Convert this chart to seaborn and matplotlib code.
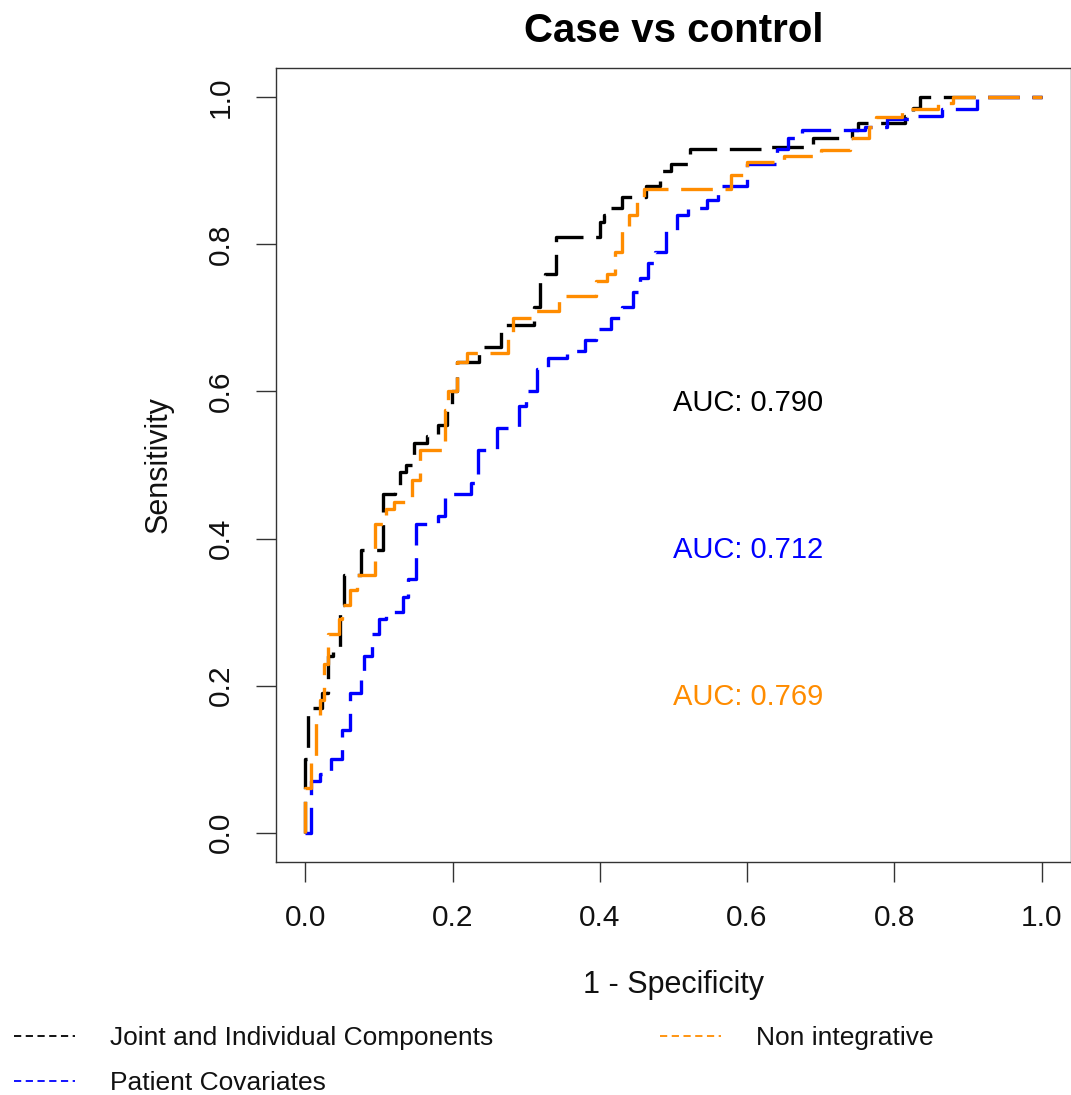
import numpy as np
import pandas as pd
import matplotlib
matplotlib.use("Agg")
import matplotlib.pyplot as plt
import seaborn as sns

# ---------------- data (step corners of the ROC curves) ----------------
jic_fpr = [0.000, 0.000, 0.004, 0.008, 0.022, 0.030, 0.037, 0.047, 0.052, 0.076,
           0.105, 0.122, 0.128, 0.136, 0.147, 0.165, 0.180, 0.192, 0.199, 0.206,
           0.236, 0.266, 0.310, 0.318, 0.326, 0.340, 0.400, 0.406, 0.414, 0.430,
           0.462, 0.482, 0.496, 0.522, 0.632, 0.690, 0.742, 0.750, 0.815, 0.825,
           0.835, 1.000]
jic_tpr = [0.000, 0.100, 0.160, 0.170, 0.190, 0.240, 0.250, 0.310, 0.350, 0.385,
           0.460, 0.470, 0.490, 0.500, 0.530, 0.540, 0.555, 0.580, 0.600, 0.640,
           0.660, 0.690, 0.715, 0.750, 0.760, 0.810, 0.830, 0.840, 0.850, 0.865,
           0.880, 0.900, 0.910, 0.930, 0.932, 0.945, 0.955, 0.965, 0.975, 0.986,
           1.000, 1.000]

pc_fpr = [0.000, 0.008, 0.008, 0.020, 0.035, 0.050, 0.060, 0.075, 0.080, 0.090,
          0.100, 0.110, 0.132, 0.140, 0.150, 0.180, 0.190, 0.225, 0.235, 0.260,
          0.290, 0.300, 0.315, 0.330, 0.355, 0.380, 0.395, 0.415, 0.430, 0.445,
          0.455, 0.465, 0.475, 0.490, 0.505, 0.520, 0.545, 0.560, 0.600, 0.640,
          0.655, 0.675, 0.760, 0.790, 0.820, 0.865, 0.912, 1.000]
pc_tpr = [0.000, 0.000, 0.070, 0.080, 0.100, 0.140, 0.190, 0.210, 0.240, 0.270,
          0.290, 0.300, 0.320, 0.345, 0.420, 0.430, 0.460, 0.475, 0.520, 0.550,
          0.580, 0.600, 0.630, 0.645, 0.655, 0.670, 0.685, 0.700, 0.715, 0.735,
          0.755, 0.775, 0.790, 0.820, 0.840, 0.850, 0.860, 0.880, 0.910, 0.930,
          0.945, 0.955, 0.960, 0.970, 0.975, 0.984, 1.000, 1.000]

ni_fpr = [0.000, 0.000, 0.008, 0.015, 0.020, 0.025, 0.030, 0.045, 0.050, 0.060,
          0.070, 0.095, 0.105, 0.110, 0.120, 0.145, 0.155, 0.190, 0.193, 0.206,
          0.220, 0.275, 0.282, 0.310, 0.345, 0.395, 0.410, 0.420, 0.430, 0.440,
          0.450, 0.460, 0.578, 0.600, 0.650, 0.700, 0.740, 0.765, 0.775, 0.810,
          0.860, 0.880, 1.000]
ni_tpr = [0.000, 0.060, 0.100, 0.160, 0.180, 0.230, 0.270, 0.290, 0.310, 0.330,
          0.350, 0.420, 0.430, 0.440, 0.450, 0.480, 0.520, 0.575, 0.600, 0.640,
          0.652, 0.680, 0.700, 0.710, 0.730, 0.750, 0.760, 0.790, 0.820, 0.840,
          0.860, 0.875, 0.895, 0.912, 0.920, 0.928, 0.945, 0.960, 0.973, 0.984,
          0.993, 1.000, 1.000]

series_names = ["Joint and Individual Components", "Patient Covariates", "Non integrative"]
series_colors = ["black", "#0000FF", "#FF8C00"]
auc_labels = ["AUC: 0.790", "AUC: 0.712", "AUC: 0.769"]
auc_y = [0.585, 0.385, 0.185]
ticks = [0.0, 0.2, 0.4, 0.6, 0.8, 1.0]
tick_labels = ["0.0", "0.2", "0.4", "0.6", "0.8", "1.0"]

frames = []
for name, fx, ty in zip(series_names, [jic_fpr, pc_fpr, ni_fpr], [jic_tpr, pc_tpr, ni_tpr]):
    frames.append(pd.DataFrame({"fpr": fx, "tpr": ty, "model": name}))

# ---------------- figure ----------------
sns.set_style("white")
plt.rcParams["font.family"] = ["Liberation Sans", "DejaVu Sans"]
plt.rcParams["text.color"] = "black"

fig = plt.figure(figsize=(10.71, 10.95), dpi=100)
ax = fig.add_axes([276 / 1071, (1095 - 862) / 1095, 795 / 1071, 794 / 1095])

lines = []
for df, col in zip(frames, series_colors):
    sns.lineplot(data=df, x="fpr", y="tpr", ax=ax, color=col, sort=False,
                 estimator=None, drawstyle="steps-post", linewidth=2.4,
                 dashes=False, legend=False)
    ln = ax.lines[-1]
    ln.set_dashes([9.5, 3.8])
    ln.set_label(df["model"].iloc[0])
    lines.append(ln)

ax.set_xlim(-0.04, 1.04)
ax.set_ylim(-0.04, 1.04)
ax.set_xticks(ticks)
ax.set_xticklabels(tick_labels)
ax.set_yticks(ticks)
ax.set_yticklabels(tick_labels, rotation=90, va="center")
ax.tick_params(axis="both", which="major", bottom=True, left=True, direction="out",
               length=14.5, width=1.0, color="#333333", labelsize=21.5,
               labelcolor="#111111")
ax.tick_params(axis="x", pad=16)
ax.tick_params(axis="y", pad=15)
for sp in ax.spines.values():
    sp.set_color("#333333")
    sp.set_linewidth(1.0)

ax.set_xlabel("1 - Specificity", fontsize=22, labelpad=27, color="#111111")
ax.set_ylabel("Sensitivity", fontsize=22, labelpad=24, color="#111111")
ax.set_title("Case vs control", fontsize=29, fontweight="bold", pad=19, color="black")

for lab, yy, col in zip(auc_labels, auc_y, series_colors):
    ax.text(0.5, yy, lab, color=col, fontsize=21, ha="left", va="center")

leg = fig.legend(handles=lines, labels=series_names, loc="upper left",
                 bbox_to_anchor=(14 / 1071, (1095 - 1026) / 1095), ncol=2,
                 frameon=False, fontsize=19, handlelength=2.3, handletextpad=1.35,
                 columnspacing=6.3, labelspacing=0.8, borderpad=0, borderaxespad=0)
for h in leg.legend_handles:
    h.set_linewidth(1.3)
    h.set_dashes([4, 2.5])
for t in leg.get_texts():
    t.set_color("#111111")

fig.savefig("out.png", dpi=100)
